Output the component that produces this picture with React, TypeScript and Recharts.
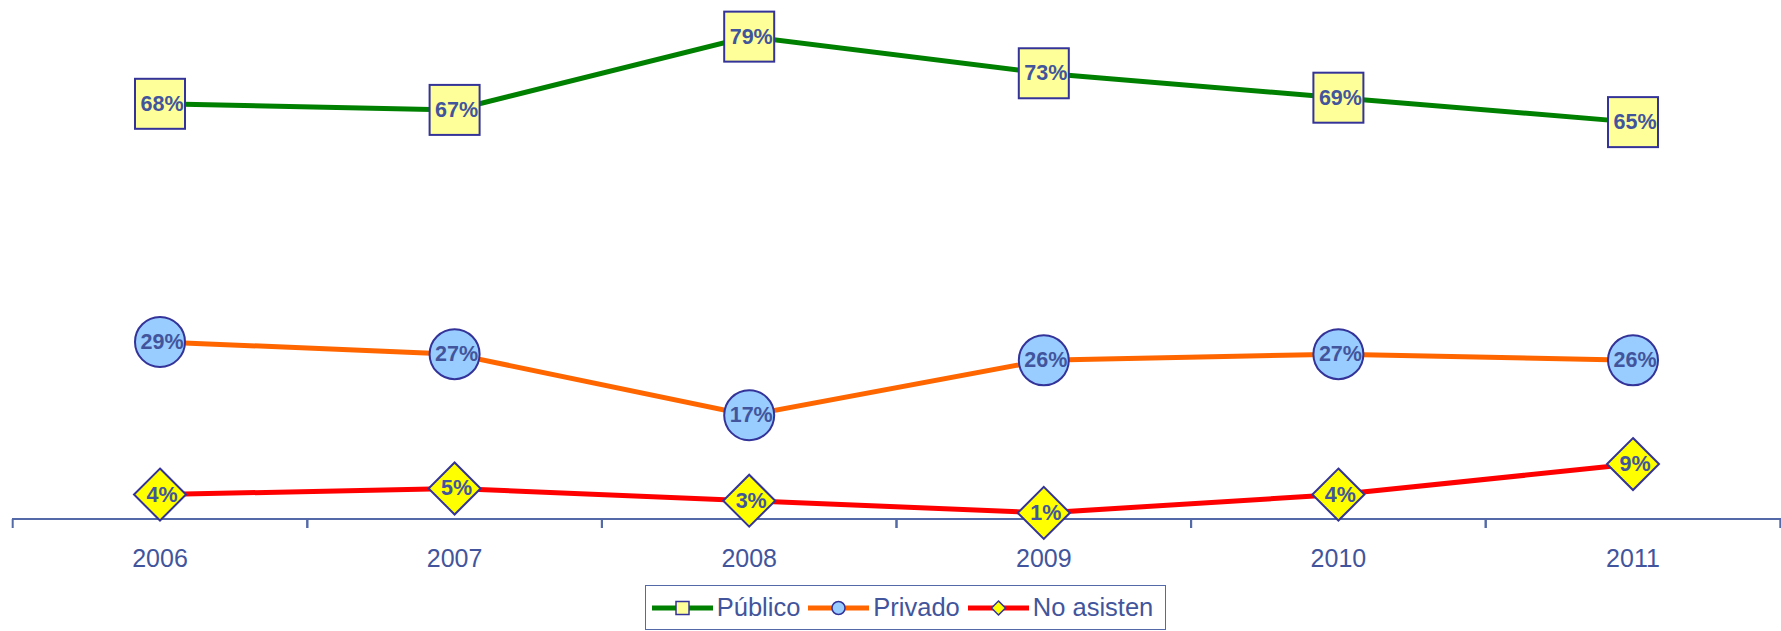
import { LineChart, Line, XAxis, YAxis, Legend, LabelList } from 'recharts';

const years = ['2006', '2007', '2008', '2009', '2010', '2011'];
const publico = [68, 67, 79, 73, 69, 65];
const privado = [29, 27, 17, 26, 27, 26];
const noAsisten = [4, 5, 3, 1, 4, 9];

const data = years.map((year, i) => ({
    year,
    publico: publico[i],
    privado: privado[i],
    noAsisten: noAsisten[i],
}));

const W = 1781;
const H = 631;
const LEFT = 12;
const PAD = 148;
const STEP = (W - LEFT - 2 * PAD) / (years.length - 1);

const NAVY = '#333399';
const TEXT = '#42559c';
const AXIS = '#5369a8';

const SquareDot = (props: any) => {
    const { cx, cy, index } = props;
    return <rect key={`sq-${index}`} x={cx - 25} y={cy - 25} width={50} height={50} fill="#ffff99" stroke={NAVY} strokeWidth={2} />;
};

const CircleDot = (props: any) => {
    const { cx, cy, index } = props;
    return <circle key={`ci-${index}`} cx={cx} cy={cy} r={25} fill="#99ccff" stroke={NAVY} strokeWidth={2} />;
};

const DiamondDot = (props: any) => {
    const { cx, cy, index } = props;
    return (
        <polygon
            key={`di-${index}`}
            points={`${cx},${cy - 26} ${cx + 26},${cy} ${cx},${cy + 26} ${cx - 26},${cy}`}
            fill="#ffff00"
            stroke={NAVY}
            strokeWidth={2}
        />
    );
};

const renderLabel = (props: any) => {
    const { x, y, value, index } = props;
    return (
        <text key={`lb-${index}`} x={x + 2} y={y} textAnchor="middle" dominantBaseline="central" fill={TEXT} fontSize={21.5} fontWeight="bold">
            {`${value}%`}
        </text>
    );
};

const renderTick = (props: any) => {
    const { x, y, payload } = props;
    return (
        <g>
            <line x1={x - STEP / 2} y1={y} x2={x - STEP / 2} y2={y + 9} stroke={AXIS} strokeWidth={2} />
            <line x1={x + STEP / 2} y1={y} x2={x + STEP / 2} y2={y + 9} stroke={AXIS} strokeWidth={2} />
            <text x={x} y={y + 48} textAnchor="middle" fill={TEXT} fontSize={25}>
                {payload.value}
            </text>
        </g>
    );
};

const legendItems = [
    { name: 'Público', color: '#008000', marker: 'square' },
    { name: 'Privado', color: '#ff6600', marker: 'circle' },
    { name: 'No asisten', color: '#ff0000', marker: 'diamond' },
];

const renderLegend = () => (
    <div style={{ display: 'flex', justifyContent: 'center' }}>
        <div
            style={{
                display: 'flex',
                alignItems: 'center',
                height: 43,
                marginLeft: 18,
                padding: '0 4px 0 6px',
                border: `1.5px solid ${AXIS}`,
                fontFamily: 'Liberation Sans, Arial, sans-serif',
                fontSize: 25.5,
                color: TEXT,
                background: '#fff',
            }}
        >
            {legendItems.map((item) => (
                <div key={item.name} style={{ display: 'flex', alignItems: 'center', marginRight: 8 }}>
                    <svg width={61} height={20} style={{ marginRight: 4 }}>
                        <line x1={0} y1={10} x2={61} y2={10} stroke={item.color} strokeWidth={5} />
                        {item.marker === 'square' && <rect x={24} y={3.5} width={13} height={13} fill="#ffff99" stroke={NAVY} strokeWidth={1.5} />}
                        {item.marker === 'circle' && <circle cx={30.5} cy={10} r={6.5} fill="#99ccff" stroke={NAVY} strokeWidth={1.5} />}
                        {item.marker === 'diamond' && <polygon points="30.5,3 37.5,10 30.5,17 23.5,10" fill="#ffff00" stroke={NAVY} strokeWidth={1.5} />}
                    </svg>
                    <span>{item.name}</span>
                </div>
            ))}
        </div>
    </div>
);

export default function App() {
    return (
        <div style={{ width: W, height: H, fontFamily: 'Liberation Sans, Arial, sans-serif' }}>
            <style>{'body{margin:0}'}</style>
            <LineChart width={W} height={H} data={data} margin={{ top: 0, right: 0, bottom: 0, left: LEFT }}>
                <XAxis
                    dataKey="year"
                    padding={{ left: PAD, right: PAD }}
                    height={66}
                    tickSize={0}
                    tickMargin={0}
                    tickLine={false}
                    axisLine={{ stroke: AXIS, strokeWidth: 2 }}
                    tick={renderTick}
                    interval={0}
                />
                <YAxis hide domain={[0, 85]} />
                <Legend verticalAlign="bottom" height={46} content={renderLegend} />
                <Line dataKey="publico" name="Público" stroke="#008000" strokeWidth={5} dot={SquareDot} isAnimationActive={false}>
                    <LabelList dataKey="publico" content={renderLabel} />
                </Line>
                <Line dataKey="privado" name="Privado" stroke="#ff6600" strokeWidth={5} dot={CircleDot} isAnimationActive={false}>
                    <LabelList dataKey="privado" content={renderLabel} />
                </Line>
                <Line dataKey="noAsisten" name="No asisten" stroke="#ff0000" strokeWidth={5} dot={DiamondDot} isAnimationActive={false}>
                    <LabelList dataKey="noAsisten" content={renderLabel} />
                </Line>
            </LineChart>
        </div>
    );
}
